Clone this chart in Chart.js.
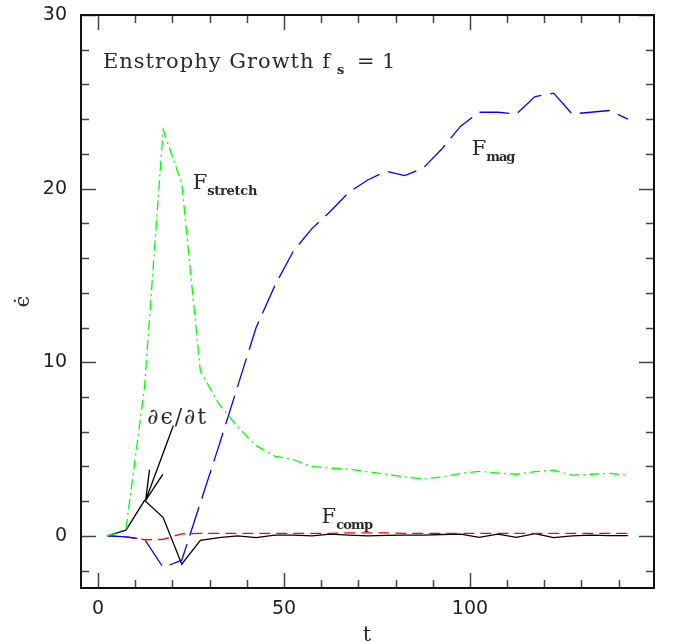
<!DOCTYPE html>
<html>
<head>
<meta charset="utf-8">
<script src="https://cdn.jsdelivr.net/npm/chart.js@4"></script>
<style>
  html, body { margin: 0; padding: 0; background: #fff; }
  #wrap { width: 673px; height: 643px; }
</style>
</head>
<body>
<div id="wrap"><canvas id="chart-enstrophy" width="673" height="643"></canvas></div>
<script>
// simulation output times
const t = [2.5, 7.5, 12.5, 17.5, 22.5, 27.5, 32.5, 37.5, 42.5, 47.5,
           52.5, 57.5, 62.5, 67.5, 72.5, 77.5, 82.5, 87.5, 92.5, 97.5,
           102.5, 107.5, 112.5, 117.5, 122.5, 127.5, 132.5, 137.5, 142.5];

// enstrophy source terms
const fStretch = [0, 0.4, 8.6, 23.4, 20.3, 9.5, 7.6, 6.3, 5.2, 4.6,
                  4.4, 4.0, 3.9, 3.85, 3.7, 3.55, 3.4, 3.28, 3.4, 3.6,
                  3.72, 3.62, 3.55, 3.7, 3.78, 3.5, 3.55, 3.6, 3.5];
const fMag = [0, -0.05, -0.2, -1.82, -1.4, 1.9, 5.2, 8.6, 12.0, 14.4,
              16.4, 17.7, 18.7, 19.8, 20.5, 21.0, 20.75, 21.2, 22.3, 23.6,
              24.4, 24.4, 24.3, 25.3, 25.5, 24.3, 24.4, 24.5, 24.0];
const fComp = [0, -0.05, -0.22, -0.2, 0.12, 0.15, 0.15, 0.15, 0.15, 0.15,
               0.15, 0.15, 0.15, 0.18, 0.18, 0.18, 0.15, 0.15, 0.15, 0.15,
               0.15, 0.15, 0.15, 0.15, 0.15, 0.15, 0.15, 0.15, 0.15];
const dEdt = [0, 0.33, 2.05, 1.06, -1.63, -0.25, -0.1, 0.0, -0.1, 0.05,
              0.05, 0.0, 0.1, 0.05, 0.0, 0.03, 0.05, 0.05, 0.08, 0.1,
              -0.08, 0.1, -0.08, 0.13, -0.1, 0.0, 0.05, 0.02, 0.02];

const xTicks = [0, 50, 100];
const yTicks = [0, 10, 20, 30];

const SERIF = '"DejaVu Serif", "Liberation Serif", serif';
const SANS = '"DejaVu Sans", sans-serif';

function pts(ys) {
  return t.map((x, i) => ({ x: x, y: ys[i] }));
}

// spread a string over a given width
function fitText(ctx, str, x, y, w) {
  ctx.letterSpacing = '0px';
  const natural = ctx.measureText(str).width;
  const n = [...str].length;
  const extra = n > 1 ? (w - natural) / (n - 1) : 0;
  ctx.letterSpacing = extra + 'px';
  ctx.fillText(str, x, y);
  ctx.letterSpacing = '0px';
}

// label with a subscript, anchored in data coordinates
function subLabel(ctx, chart, tx, ty, main, sub, subW) {
  const px = chart.scales.x.getPixelForValue(tx);
  const py = chart.scales.y.getPixelForValue(ty);
  ctx.font = '21px ' + SERIF;
  ctx.fillText(main, px, py);
  const w = ctx.measureText(main).width;
  ctx.font = 'bold 13px ' + SERIF;
  fitText(ctx, sub, px + w, py + 6, subW);
}

// keep the plot box fixed: no extra room for overhanging tick labels
function fixBox(size, key) {
  return s => {
    s[key] = size;
    s.paddingTop = 0; s.paddingBottom = 0;
    s.paddingLeft = 0; s.paddingRight = 0;
  };
}

const framePlugin = {
  id: 'frameTicks',
  afterDraw(chart) {
    const ctx = chart.ctx;
    const a = chart.chartArea;
    const xs = chart.scales.x, ys = chart.scales.y;
    ctx.save();

    // tick marks inside the box, on all four sides
    ctx.strokeStyle = '#444';
    ctx.lineWidth = 1.5;
    ctx.beginPath();
    for (let v = 0; v <= 140; v += 10) {
      const len = v % 50 === 0 ? 15 : 8;
      const p = Math.round(xs.getPixelForValue(v)) + 0.5;
      ctx.moveTo(p, a.bottom); ctx.lineTo(p, a.bottom - len);
      ctx.moveTo(p, a.top); ctx.lineTo(p, a.top + len);
    }
    for (let v = -2; v <= 30; v += 2) {
      const len = v % 10 === 0 ? 15 : 8;
      const p = Math.round(ys.getPixelForValue(v)) + 0.5;
      ctx.moveTo(a.left, p); ctx.lineTo(a.left + len, p);
      ctx.moveTo(a.right, p); ctx.lineTo(a.right - len, p);
    }
    ctx.stroke();

    // box
    ctx.strokeStyle = '#111';
    ctx.lineWidth = 2;
    ctx.strokeRect(a.left, a.top, a.right - a.left, a.bottom - a.top);

    ctx.fillStyle = '#2a2a2a';
    ctx.textBaseline = 'alphabetic';
    ctx.textAlign = 'left';

    // title
    ctx.font = '21px ' + SERIF;
    fitText(ctx, 'Enstrophy Growth f', a.left + 22, a.top + 53, 227);
    ctx.font = 'bold 13px ' + SERIF;
    ctx.fillText('s', a.left + 256, a.top + 59);
    ctx.font = '21px ' + SERIF;
    ctx.fillText('=', a.left + 276, a.top + 53);
    ctx.fillText('1', a.left + 301, a.top + 53);

    // curve labels
    subLabel(ctx, chart, 25.46, 19.97, 'F', 'stretch', 50);
    subLabel(ctx, chart, 100.5, 21.92, 'F', 'mag', 29);
    subLabel(ctx, chart, 60.1, 0.75, 'F', 'comp', 37);

    ctx.font = '22px ' + SERIF;
    fitText(ctx, '\u2202\u03F5/\u2202t', xs.getPixelForValue(13.2), ys.getPixelForValue(6.46), 59);

    // arrow to the peak of the time derivative
    const tx0 = xs.getPixelForValue(20.24), ty0 = ys.getPixelForValue(6.36);
    const tx1 = xs.getPixelForValue(12.8), ty1 = ys.getPixelForValue(dEdt[2]);
    const ang = Math.atan2(ty0 - ty1, tx0 - tx1);
    ctx.strokeStyle = '#000';
    ctx.lineWidth = 1.3;
    ctx.beginPath();
    ctx.moveTo(tx0, ty0); ctx.lineTo(tx1, ty1);
    for (const s of [-1, 1]) {
      ctx.moveTo(tx1, ty1);
      ctx.lineTo(tx1 + 31 * Math.cos(ang + s * 0.23), ty1 + 31 * Math.sin(ang + s * 0.23));
    }
    ctx.stroke();

    // axis titles
    ctx.font = '21px ' + SERIF;
    ctx.textAlign = 'center';
    ctx.fillText('t', (a.left + a.right) / 2 - 0.5, 641);
    ctx.save();
    ctx.translate(29, (a.top + a.bottom) / 2);
    ctx.rotate(-Math.PI / 2);
    ctx.fillText('\u03F5\u0307', 0, 0);
    ctx.restore();

    ctx.restore();
  }
};

new Chart(document.getElementById('chart-enstrophy'), {
  type: 'line',
  data: {
    datasets: [
      { label: 'F_stretch', data: pts(fStretch), borderColor: '#00ff00', borderWidth: 1.3,
        borderDash: [10, 4, 2, 4] },
      { label: 'F_mag', data: pts(fMag), borderColor: '#0000ff', borderWidth: 1.3,
        borderDash: [30, 9] },
      { label: 'F_comp', data: pts(fComp), borderColor: '#ff0000', borderWidth: 1.3,
        borderDash: [11, 6] },
      { label: 'de/dt', data: pts(dEdt), borderColor: '#000000', borderWidth: 1.3 }
    ]
  },
  options: {
    responsive: false,
    animation: false,
    devicePixelRatio: 1,
    layout: { padding: { top: 15, right: 19, left: 0, bottom: 0 } },
    elements: { point: { radius: 0 }, line: { tension: 0, fill: false } },
    plugins: { legend: { display: false }, tooltip: { enabled: false } },
    scales: {
      x: {
        type: 'linear',
        min: -4.6,
        max: 149.5,
        afterBuildTicks: s => { s.ticks = xTicks.map(v => ({ value: v })); },
        afterFit: fixBox(55, 'height'),
        grid: { display: false, drawTicks: false },
        border: { display: false },
        ticks: { font: { family: SANS, size: 19 }, color: '#222', padding: 10, maxRotation: 0 }
      },
      y: {
        type: 'linear',
        min: -3,
        max: 30,
        afterBuildTicks: s => { s.ticks = yTicks.map(v => ({ value: v })); },
        afterFit: fixBox(81, 'width'),
        grid: { display: false, drawTicks: false },
        border: { display: false },
        ticks: { font: { family: SANS, size: 19 }, color: '#222', padding: 14 }
      }
    }
  },
  plugins: [framePlugin]
});
</script>
</body>
</html>
